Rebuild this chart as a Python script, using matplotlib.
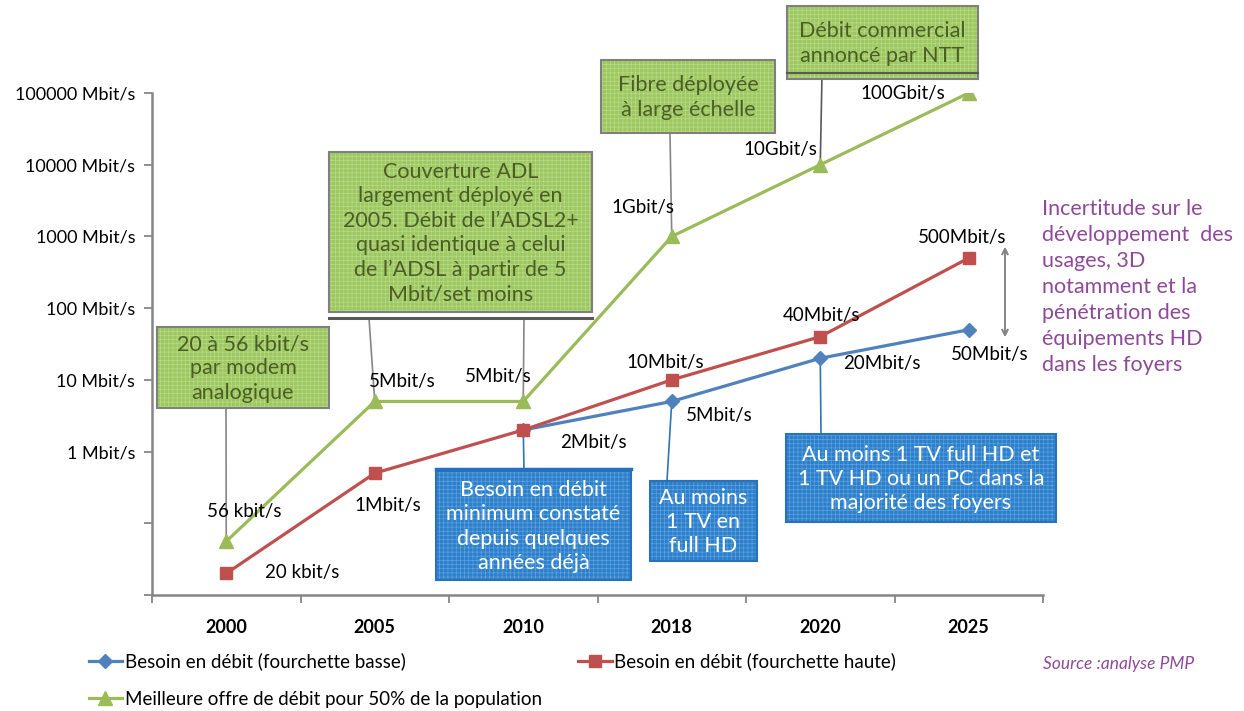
import numpy as np
import matplotlib.pyplot as plt
from matplotlib.patches import Rectangle
from matplotlib.lines import Line2D

plt.rcParams['font.family'] = ['Lato', 'DejaVu Sans']
plt.rcParams['hatch.linewidth'] = 0.5

# data (Mbit/s)
years = ['2000', '2005', '2010', '2018', '2020', '2025']
low = [np.nan, np.nan, 2, 5, 20, 50]
high = [0.02, 0.5, 2, 10, 40, 500]
best = [0.056, 5, 5, 1000, 10000, 100000]

low_labels = [None, None, None, '5Mbit/s', '20Mbit/s', '50Mbit/s']
high_labels = ['20 kbit/s', '1Mbit/s', '2Mbit/s', '10Mbit/s', '40Mbit/s', '500Mbit/s']
best_labels = ['56 kbit/s', '5Mbit/s', '5Mbit/s', '1Gbit/s', '10Gbit/s', '100Gbit/s']

yticks = [0.01, 0.1, 1, 10, 100, 1000, 10000, 100000]
ytick_labels = ['', '', '1 Mbit/s', '10 Mbit/s', '100 Mbit/s', '1000 Mbit/s',
                '10000 Mbit/s', '100000 Mbit/s']

BLUE = '#4F81BD'
RED = '#C0504D'
GREEN = '#9BBB59'
GRAY = '#868686'

W, H = 1244, 711
fig = plt.figure(figsize=(W / 100, H / 100), dpi=100)
ax = fig.add_axes([152 / W, 1 - 595 / H, (1043 - 152) / W, (595 - 93) / H])


def f(x, y):
    # pixel position -> figure fraction
    return (x / W, 1 - y / H)


x = np.arange(len(years))
l1, = ax.plot(x, low, color=BLUE, lw=2.3, marker='D', ms=7, zorder=3,
              label='Besoin en débit (fourchette basse)')
l2, = ax.plot(x, high, color=RED, lw=2.3, marker='s', ms=9, zorder=4,
              label='Besoin en débit (fourchette haute)')
l3, = ax.plot(x, best, color=GREEN, lw=2.3, marker='^', ms=10, zorder=3,
              label='Meilleure offre de débit pour 50% de la population')

ax.set_yscale('log')
ax.set_ylim(0.01, 100000)
ax.set_xlim(-0.5, len(years) - 0.5)
ax.set_yticks(yticks)
ax.set_yticklabels(ytick_labels, fontsize=13)
ax.yaxis.set_minor_locator(plt.NullLocator())
ax.set_xticks(x)
ax.set_xticklabels(years, fontsize=13, fontweight='bold')
ax.set_xticks(np.arange(-0.5, len(years)), minor=True)
ax.tick_params(axis='x', which='major', length=0, pad=17)
ax.tick_params(axis='x', which='minor', length=6, color=GRAY, width=1.3)
ax.tick_params(axis='y', length=6, color=GRAY, width=1.3, pad=6)
for s in ['top', 'right']:
    ax.spines[s].set_visible(False)
for s in ['left', 'bottom']:
    ax.spines[s].set_color(GRAY)
    ax.spines[s].set_linewidth(1.8)

# data labels
offsets = {
    'low': [None, None, None, (48, -14), (62, -5), (21, -25)],
    'high': [(76, 1), (13, -32), (70, -13), (-6, 17), (1, 21), (-7, 21)],
    'best': [(18, 30), (28, 20), (-25, 25), (-29, 29), (-40, 15), (-66, 0)],
}
for key, vals, labs in [('low', low, low_labels), ('high', high, high_labels),
                        ('best', best, best_labels)]:
    for i, (v, t) in enumerate(zip(vals, labs)):
        if t is None:
            continue
        ax.annotate(t, (i, v), xytext=offsets[key][i], textcoords='offset pixels',
                    ha='center', va='center', fontsize=13.5, zorder=6)


def box(x0, y0, x1, y1, txt, kind):
    if kind == 'green':
        fc, hc, ec, tc = '#9DC75F', '#B9DA8C', '#7F7F7F', '#4A5E25'
    else:
        fc, hc, ec, tc = '#2C7FCB', '#5EA1DD', '#2A72B8', 'white'
    xy = f(x0, y1)
    w, h = (x1 - x0) / W, (y1 - y0) / H
    fig.add_artist(Rectangle(xy, w, h, transform=fig.transFigure, fc=fc,
                             ec=hc, lw=0, hatch='++++', zorder=5))
    fig.add_artist(Rectangle(xy, w, h, transform=fig.transFigure, fc='none',
                             ec=ec, lw=1.5, zorder=5))
    fig.text(*f((x0 + x1) / 2, (y0 + y1) / 2 + 1), txt, ha='center', va='center',
             color=tc, fontsize=15.5, linespacing=1.28, zorder=6)


def connect(px, py, i, v, color):
    ax.annotate('', xy=(i, v), xycoords='data', xytext=f(px, py),
                textcoords='figure fraction', zorder=2,
                arrowprops=dict(arrowstyle='-', color=color, lw=1.2,
                                shrinkA=0, shrinkB=0))


def hline(x0, x1, y, color, lw):
    fig.add_artist(Line2D([x0 / W, x1 / W], [1 - y / H, 1 - y / H],
                          transform=fig.transFigure, color=color, lw=lw, zorder=5))


# green call-outs
connect(226, 408, 0, best[0], GRAY)
box(157, 327, 329, 408, '20 à 56 kbit/s\npar modem\nanalogique', 'green')

connect(369, 318, 1, best[1], GRAY)
connect(524, 318, 2, best[2], GRAY)
hline(329, 592, 318, '#595959', 2.2)
box(329, 152, 592, 312, 'Couverture ADL\nlargement déployé en\n2005. Débit de l’ADSL2+\n'
    'quasi identique à celui\nde l’ADSL à partir de 5\nMbit/set moins', 'green')

connect(670, 133, 3, best[3], GRAY)
box(601, 60, 775, 133, 'Fibre déployée\nà large échelle', 'green')

connect(822, 75, 4, best[4], '#595959')
box(787, 6, 978, 79, 'Débit commercial\nannoncé par NTT', 'green')
hline(787, 978, 73, '#595959', 1.5)

# blue call-outs
connect(524, 469, 2, high[2], '#2E75B6')
box(436, 471, 631, 580, 'Besoin en débit\nminimum constaté\ndepuis quelques\nannées déjà', 'blue')
hline(436, 631, 469, '#2270C0', 2.5)

connect(667, 481, 3, low[3], '#2E75B6')
box(650, 481, 757, 561, 'Au moins\n1 TV en\nfull HD', 'blue')

connect(821, 434, 4, low[4], '#2E75B6')
box(786, 434, 1056, 522, 'Au moins 1 TV full HD et\n1 TV HD ou un PC dans la\nmajorité des foyers', 'blue')

# uncertainty arrow and comment
fig.add_artist(plt.annotate('', xy=f(1005, 247), xytext=f(1005, 337),
                            xycoords='figure fraction', textcoords='figure fraction',
                            arrowprops=dict(arrowstyle='<->', color=GRAY, lw=1.2,
                                            shrinkA=0, shrinkB=0)))
fig.text(*f(1042, 199), 'Incertitude sur le\ndéveloppement  des\nusages, 3D\nnotamment et la\n'
         'pénétration des\néquipements HD\ndans les foyers', ha='left', va='top',
         color='#8E4A99', fontsize=15.5, linespacing=1.38)

fig.text(*f(1043, 664), 'Source :analyse PMP', ha='left', va='center',
         color='#8E4A99', fontsize=12.5, style='italic')

fig.legend(handles=[l1, l3, l2], ncol=2, loc='upper left',
           bbox_to_anchor=f(81, 645), frameon=False, fontsize=13.5,
           handlelength=1.8, handletextpad=0.15, columnspacing=1.9,
           labelspacing=1.1, borderaxespad=0)

fig.savefig('out.png', dpi=100)
